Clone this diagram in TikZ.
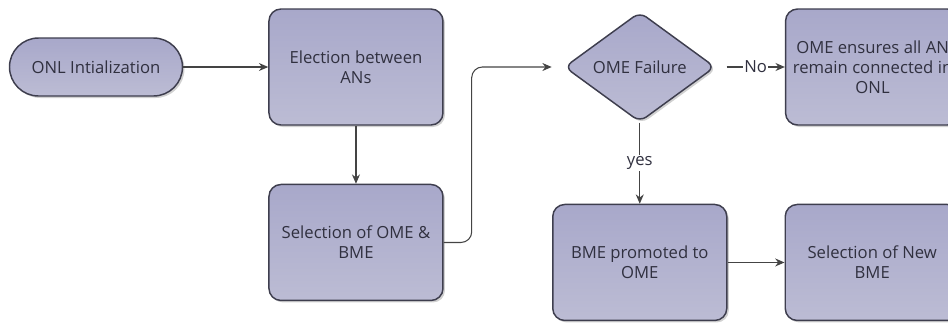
\documentclass[tikz,border=0pt]{standalone}
\usepackage{fontspec}
\setmainfont{Open Sans}
\usepackage{xcolor}
\usetikzlibrary{shapes.geometric,arrows.meta,positioning,shadows}

\definecolor{boxtop}{HTML}{A8A8CA}
\definecolor{boxbottom}{HTML}{BCBCD4}
\definecolor{boxline}{HTML}{3E3E4E}
\definecolor{inktext}{HTML}{30303F}
\definecolor{wire}{HTML}{444444}

\begin{document}
\begin{tikzpicture}[
    node distance=43.5pt and 63.75pt,
    font=\fontsize{12.5}{15}\selectfont,
    every node/.style={text=inktext},
    process/.style={rectangle, draw=boxline, line width=1.1pt, rounded corners=9pt, top color=boxtop, bottom color=boxbottom, align=center, minimum width=130.5pt, minimum height=87pt, inner sep=2pt, drop shadow={shadow xshift=1.5pt, shadow yshift=-1.5pt, fill=black!30, opacity=0.6}},
    terminal/.style={process, rounded corners=21.75pt, minimum width=129.75pt, minimum height=43.5pt},
    decision/.style={diamond, draw=boxline, line width=1.1pt, rounded corners=6pt, top color=boxtop, bottom color=boxbottom, align=center, minimum width=113pt, minimum height=82.5pt, inner sep=0pt, shape aspect=1.37, drop shadow={shadow xshift=1.5pt, shadow yshift=-1.5pt, fill=black!30, opacity=0.6}},
    arrow/.style={-{Stealth[length=7pt, width=6pt]}, line width=0.8pt, draw=wire},
    tag/.style={fill=white, inner sep=1pt}
]
    \useasboundingbox (0,0) rectangle (711pt,-241.5pt);

    \node [terminal] (init) at (72pt,-50.25pt) {ONL Intialization};
    \node [process, right=of init] (elect) {Election between\\ANs};
    \node [process, below=of elect] (select) {Selection of OME \&\\BME};
    \node [decision, right=90pt of elect] (failure) {OME Failure};
    \node [process, right=51.75pt of failure] (ensure) {OME ensures all AN\\remain connected in\\ONL};
    \node [process, below=60.75pt of failure] (promote) {BME promoted to\\OME};
    \node [process, right=42.75pt of promote] (newbme) {Selection of New\\BME};

    \draw [arrow] (init) -- (elect);
    \draw [arrow] (elect) -- (select);
    \draw [arrow, rounded corners=8pt] (select.east) -- ++(21pt,0) |- ([xshift=-9pt]failure.west);
    \draw [arrow] ([xshift=8pt]failure.east) -- node [tag] {No} (ensure.west);
    \draw [arrow] (failure.south) -- node [tag] {yes} (promote.north);
    \draw [arrow] (promote) -- (newbme);
\end{tikzpicture}
\end{document}
